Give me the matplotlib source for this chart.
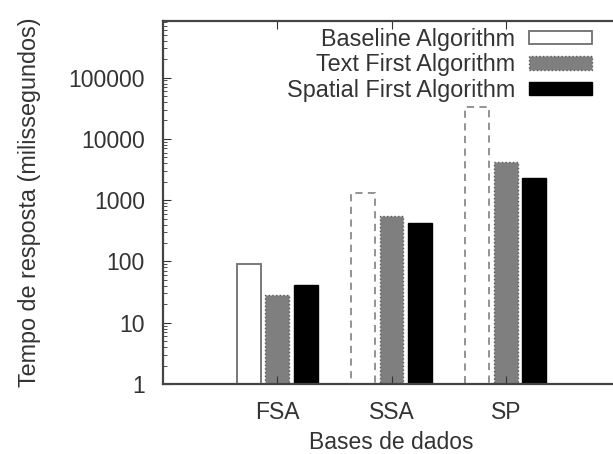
import numpy as np
import matplotlib
matplotlib.use('Agg')
from matplotlib import pyplot as plt

plt.rcParams['font.family'] = 'Liberation Sans'

# tempos de resposta (ms)
bases = ['FSA', 'SSA', 'SP']
baseline = [90, 1320, 33400]
text_first = [27, 556, 4250]
spatial_first = [41, 427, 2265]
series_names = ['Baseline Algorithm', 'Text First Algorithm', 'Spatial First Algorithm']

W, H = 613, 454
fig = plt.figure(figsize=(W/100, H/100), dpi=100)
# axes from px (163, 21) to (620, 384) - right spine is outside the picture
ax = fig.add_axes([163/W, 1-384/H, (620-163)/W, (384-21)/H])

x = np.arange(1, len(bases)+1)
bw = 0.21
off = 0.25
gray = '#7f7f7f'

b0 = ax.bar(x-off, baseline, bw, bottom=1, color='white', edgecolor='#6e6e6e', linewidth=1.3)
for p in b0[1:]:
    p.set_linestyle((0, (4, 3)))
    p.set_edgecolor('#8a8a8a')
b1 = ax.bar(x, text_first, bw, bottom=1, color=gray, edgecolor='#5a5a5a', linewidth=1.0, linestyle=':')
b2 = ax.bar(x+off, spatial_first, bw, bottom=1, color='black', edgecolor='black', linewidth=1.0)

ax.set_yscale('log')
ax.set_ylim(1, 8.4e5)
ax.set_xlim(0, 4)
ax.set_yticks([1, 10, 100, 1000, 10000, 100000])
ax.set_yticklabels(['1', '10', '100', '1000', '10000', '100000'])
ax.set_xticks(x)
ax.set_xticklabels(bases)

ax.tick_params(axis='both', which='both', direction='in', labelsize=16.5, colors='#333333')
ax.tick_params(axis='x', top=True, length=6, pad=12)
ax.tick_params(axis='y', which='major', length=6, pad=13)
ax.tick_params(axis='y', which='minor', length=3)
for s in ax.spines.values():
    s.set_linewidth(1.6)
    s.set_color('#444444')

ax.set_ylabel('Tempo de resposta (milissegundos)', fontsize=16.8, color='#333333', labelpad=20)
ax.set_xlabel('Bases de dados', fontsize=16.5, color='#333333', labelpad=5)

leg = ax.legend([b0[0], b1[0], b2[0]], series_names, loc='upper right',
                bbox_to_anchor=(592/W, 1-28/H), bbox_transform=fig.transFigure,
                frameon=False, markerfirst=False, fontsize=16.8,
                handlelength=2.7, handleheight=0.5, handletextpad=0.6,
                labelspacing=0.1, borderpad=0, borderaxespad=0)
leg.legend_handles[0].set_linestyle('-')
leg.legend_handles[0].set_edgecolor('#6e6e6e')
for t in leg.get_texts():
    t.set_color('#333333')

fig.savefig('out.png', dpi=100)
